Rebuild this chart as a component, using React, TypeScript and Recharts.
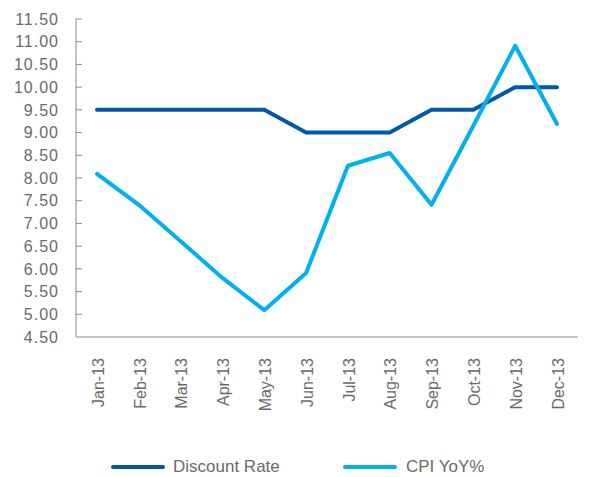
import React from 'react';
import { LineChart, Line, XAxis, YAxis, Legend } from 'recharts';

const categories = ['Jan-13', 'Feb-13', 'Mar-13', 'Apr-13', 'May-13', 'Jun-13', 'Jul-13', 'Aug-13', 'Sep-13', 'Oct-13', 'Nov-13', 'Dec-13'];
const discountRate = [9.5, 9.5, 9.5, 9.5, 9.5, 9.0, 9.0, 9.0, 9.5, 9.5, 10.0, 10.0];
const cpiYoY = [8.09, 7.41, 6.61, 5.8, 5.09, 5.91, 8.27, 8.55, 7.41, 9.15, 10.91, 9.19];
const yTicks = [4.5, 5, 5.5, 6, 6.5, 7, 7.5, 8, 8.5, 9, 9.5, 10, 10.5, 11, 11.5];

const data = categories.map((c, i) => ({ month: c, discount: discountRate[i], cpi: cpiYoY[i] }));

const DARK = '#0059A8';
const LIGHT = '#00B0F0';
const TEXT = '#6a6a6a';
const AXIS = '#8a8a8a';
const FONT = '"Liberation Sans", Arial, sans-serif';

const YTick = (props: any) => {
  const { x, y, payload } = props;
  const isBottom = payload.value === 4.5;
  return (
    <g>
      {!isBottom && <line x1={x} x2={x + 6} y1={y} y2={y} stroke={AXIS} strokeWidth={1} />}
      <text x={x - 17} y={y} dy="0.36em" textAnchor="end" fill={TEXT} fontSize={16} fontFamily={FONT} letterSpacing={1}>
        {payload.value.toFixed(2)}
      </text>
    </g>
  );
};

const XTick = (props: any) => {
  const { x, y, payload } = props;
  return (
    <text
      transform={`translate(${x + 1},${y + 21}) rotate(-90)`}
      textAnchor="end"
      dy="0.36em"
      fill={TEXT}
      fontSize={16}
      fontFamily={FONT}
    >
      {payload.value}
    </text>
  );
};

const LegendContent = () => (
  <div style={{ position: 'relative', width: 585, height: 30, fontFamily: FONT, fontSize: 17, color: TEXT }}>
    <div style={{ position: 'absolute', left: 103, top: 13, width: 54, height: 4, background: DARK, borderRadius: 2 }} />
    <div style={{ position: 'absolute', left: 165, top: 5, lineHeight: '20px', whiteSpace: 'nowrap' }}>Discount Rate</div>
    <div style={{ position: 'absolute', left: 335, top: 13, width: 54, height: 4, background: LIGHT, borderRadius: 2 }} />
    <div style={{ position: 'absolute', left: 398, top: 5, lineHeight: '20px', whiteSpace: 'nowrap' }}>CPI YoY%</div>
  </div>
);

export default function App() {
  return (
    <LineChart width={585} height={469} data={data} margin={{ top: 11, right: 15, left: 0, bottom: 30 }}>
      <XAxis
        dataKey="month"
        height={80}
        interval={0}
        padding={{ left: 21, right: 21 }}
        tick={<XTick />}
        tickLine={false}
        tickSize={0}
        tickMargin={0}
        axisLine={{ stroke: AXIS, strokeWidth: 1 }}
      />
      <YAxis
        width={68}
        domain={[4.5, 11.5]}
        ticks={yTicks}
        interval={0}
        tick={<YTick />}
        tickLine={false}
        tickSize={0}
        tickMargin={0}
        axisLine={{ stroke: AXIS, strokeWidth: 1 }}
      />
      <Legend
        verticalAlign="bottom"
        content={<LegendContent />}
        wrapperStyle={{ top: 444, bottom: 'auto', left: 0, height: 30 }}
      />
      <Line type="linear" dataKey="discount" name="Discount Rate" stroke={DARK} strokeWidth={4} dot={false} strokeLinecap="round" strokeLinejoin="round" isAnimationActive={false} />
      <Line type="linear" dataKey="cpi" name="CPI YoY%" stroke={LIGHT} strokeWidth={4} dot={false} strokeLinecap="round" strokeLinejoin="round" isAnimationActive={false} />
    </LineChart>
  );
}
